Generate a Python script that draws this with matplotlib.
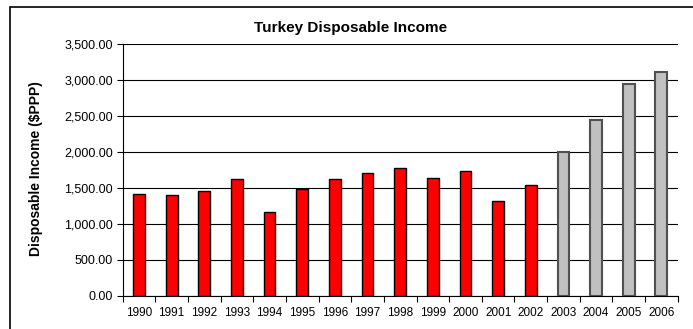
import matplotlib
matplotlib.use("Agg")
import matplotlib.pyplot as plt
import numpy as np
from matplotlib.patches import Rectangle
from matplotlib.ticker import FuncFormatter

plt.rcParams["font.family"] = ["Liberation Sans", "DejaVu Sans"]

anos = ["1990", "1991", "1992", "1993", "1994", "1995", "1996", "1997", "1998",
        "1999", "2000", "2001", "2002", "2003", "2004", "2005", "2006"]
renda = [1415, 1395, 1450, 1620, 1165, 1485, 1620, 1700, 1772,
         1632, 1735, 1312, 1535, 1992, 2442, 2940, 3110]
previsao = [False] * 13 + [True] * 4

fig = plt.figure(figsize=(6.93, 3.29), dpi=100)
ax = fig.add_axes([122.7 / 693, 1 - 295.7 / 329, 555 / 693, 251.7 / 329])

# moldura da area do grafico (so topo e esquerda aparecem)
fig.patches.append(Rectangle((10 / 693, -0.1), 1.2, 1 - 7 / 329 + 0.1,
                             transform=fig.transFigure, fill=False,
                             edgecolor="black", lw=1.2))

x = np.arange(len(anos))
cores = ["#C0C0C0" if p else "#FF0000" for p in previsao]
bordas = ["#505050" if p else "black" for p in previsao]
largs = [1.5 if p else 1.0 for p in previsao]
ax.bar(x, renda, width=0.36, color=cores, edgecolor=bordas, linewidth=largs, zorder=3)

ax.set_xlim(-0.5, len(anos) - 0.5)
ax.set_ylim(0, 3500)
ax.set_yticks(np.arange(0, 3501, 500))
ax.yaxis.set_major_formatter(FuncFormatter(lambda v, _: f"{v:,.2f}"))
ax.set_xticks(x)
ax.set_xticklabels(anos)
ax.set_xticks(np.arange(-0.5, len(anos), 1), minor=True)
ax.tick_params(axis="x", which="major", length=0, labelsize=8.5, pad=8)
ax.tick_params(axis="x", which="minor", length=4, width=0.8, direction="out")
ax.tick_params(axis="y", length=4, width=0.8, labelsize=9, pad=3)
ax.grid(axis="y", color="black", lw=0.8, zorder=0)
ax.set_axisbelow(True)
for s in ("top", "right"):
    ax.spines[s].set_visible(False)
ax.spines["left"].set_linewidth(0.8)
ax.spines["bottom"].set_linewidth(0.8)

fig.text(36 / 693, 1 - 169 / 329, "Disposable Income ($PPP)", rotation=90,
         ha="center", va="center", fontsize=10, fontweight="bold")
fig.text(351 / 693, 1 - 28 / 329, "Turkey Disposable Income", ha="center", va="center",
         fontsize=11, fontweight="bold")

fig.savefig("out.png", dpi=100)
